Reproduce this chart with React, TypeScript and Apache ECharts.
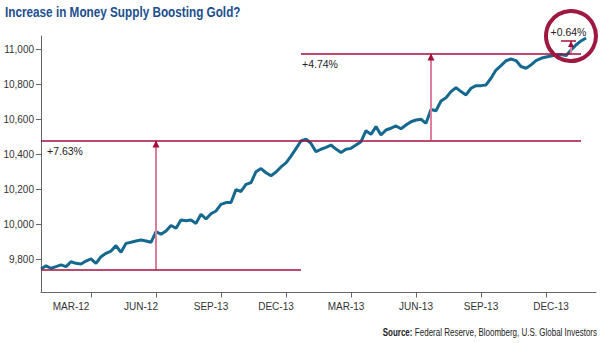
import React, { useEffect, useRef } from "react";
import * as echarts from "echarts";

// Weekly money supply (billions USD)
const moneySupply = [
  9745, 9763, 9749, 9758, 9768, 9758, 9786, 9777, 9773, 9790,
  9802, 9777, 9815, 9834, 9847, 9878, 9840, 9891, 9897, 9904,
  9910, 9904, 9897, 9958, 9943, 9962, 9993, 9977, 10024, 10020,
  10024, 10005, 10057, 10030, 10060, 10076, 10113, 10124, 10124, 10198,
  10187, 10227, 10238, 10300, 10318, 10294, 10277, 10298, 10327, 10350,
  10389, 10432, 10475, 10486, 10461, 10414, 10428, 10439, 10452, 10429,
  10409, 10428, 10433, 10452, 10471, 10534, 10513, 10557, 10509, 10538,
  10548, 10561, 10545, 10566, 10585, 10595, 10599, 10576, 10655, 10648,
  10703, 10722, 10757, 10780, 10757, 10738, 10776, 10791, 10791, 10795,
  10833, 10880, 10905, 10933, 10943, 10934, 10900, 10890, 10909, 10934,
  10947, 10954, 10960, 10967, 10969, 10962, 10994, 11023, 11046, 11063,
];
const weekCount = 112;
const weeks = Array.from({ length: weekCount }, (_, i) => String(i));

const tickWeeks = [10, 23, 36, 49, 62, 75, 88, 101];
const labelWeeks = [6, 20, 34, 47, 61, 75, 88, 102];
const tickLabels = ["MAR-12", "JUN-12", "SEP-13", "DEC-13", "MAR-13", "JUN-13", "SEP-13", "DEC-13"];
const yTicks = [9800, 10000, 10200, 10400, 10600, 10800, 11000];

// Reference levels and the growth annotations
const levelStart = 9740;
const levelYearOne = 10478;
const levelYearTwo = 10975;
const levelLatest = 11046;
const annotations = ["+7.63%", "+4.74%", "+0.64%"];
const arrowWeeks = [23, 78, 106];

const TITLE = "Increase in Money Supply Boosting Gold?";
const SOURCE_BOLD = "Source:";
const SOURCE_REST = " Federal Reserve, Bloomberg, U.S. Global Investors";

const FONT = "'Liberation Sans', Arial, sans-serif";
const RED = "#a30f3d";
const PINK = "#de7e9c";
const BLUE = "#15698f";

export default function App() {
  const ref = useRef<HTMLDivElement>(null);
  useEffect(() => {
    if (!ref.current) return;
    const chart = echarts.init(ref.current, undefined, { renderer: "svg" });
    const lineStyleRed = { color: RED, width: 1.5, type: "solid" as const };
    const shaft = (w: number, lo: number, hi: number) => [
      { coord: [w, lo], lineStyle: { color: PINK, width: 2, type: "solid" } },
      { coord: [w, hi] },
    ];
    const annoLabel = (text: string, position: string, distance: any) => ({
      show: true,
      formatter: text,
      position,
      distance,
      fontFamily: FONT,
      fontSize: 10.5,
      color: "#222",
    });
    chart.setOption({
      animation: false,
      backgroundColor: "#ffffff",
      grid: { left: 41, top: 36, width: 555, height: 256.5, containLabel: false, outerBoundsMode: "none" },
      xAxis: {
        type: "category",
        data: weeks,
        boundaryGap: false,
        axisLine: { lineStyle: { color: "#666", width: 1 } },
        axisTick: {
          interval: (idx: number) => tickWeeks.includes(idx),
          length: 5,
          lineStyle: { color: "#666" },
        },
        axisLabel: {
          interval: (idx: number) => labelWeeks.includes(idx),
          formatter: (_v: string, idx: number) => tickLabels[labelWeeks.indexOf(idx)] ?? "",
          fontFamily: FONT,
          fontSize: 10,
          color: "#333",
          margin: 9,
        },
        splitLine: { show: false },
      },
      yAxis: {
        type: "value",
        min: 9610.6,
        max: 11074.2,
        axisLine: { show: true, lineStyle: { color: "#666", width: 1 } },
        axisTick: { show: true, customValues: yTicks, length: 5, lineStyle: { color: "#666" } },
        axisLabel: {
          customValues: yTicks,
          formatter: (v: number) => v.toLocaleString("en-US"),
          fontFamily: FONT,
          fontSize: 10,
          color: "#333",
          margin: 7,
        },
        splitLine: { show: false },
      },
      series: [
        {
          type: "line",
          data: moneySupply,
          symbol: "none",
          lineStyle: { color: BLUE, width: 3 },
          z: 3,
          markLine: {
            silent: true,
            symbol: ["none", "none"],
            lineStyle: lineStyleRed,
            label: { show: false },
            data: [
              shaft(arrowWeeks[0], levelStart, levelYearOne),
              shaft(arrowWeeks[1], levelYearOne, levelYearTwo),
              shaft(arrowWeeks[2], levelYearTwo, levelLatest),
              [{ coord: [0, levelStart] }, { coord: [52, levelStart] }],
              [
                { coord: [0, levelYearOne], label: annoLabel(annotations[0], "insideStartBottom", [6, 5]) },
                { coord: [108, levelYearOne] },
              ],
              [
                { coord: [52, levelYearTwo], label: annoLabel(annotations[1], "insideStartBottom", [1, 5]) },
                { coord: [108, levelYearTwo] },
              ],
              [
                { coord: [104, levelLatest], label: annoLabel(annotations[2], "insideMiddleTop", 3) },
                { coord: [107, levelLatest] },
              ],
            ],
          },
          markPoint: {
            silent: true,
            symbol: "triangle",
            symbolSize: [7, 7],
            symbolOffset: [0, 3.5],
            itemStyle: { color: RED },
            label: { show: false },
            data: [
              { coord: [arrowWeeks[0], levelYearOne] },
              { coord: [arrowWeeks[1], levelYearTwo] },
              { coord: [arrowWeeks[2], levelLatest], symbolSize: [6, 6], symbolOffset: [0, 3] },
            ],
          },
        },
      ],
      graphic: [
        {
          type: "text",
          x: 5,
          y: 12.5,
          scaleX: 0.84,
          style: {
            text: TITLE,
            fontFamily: FONT,
            fontSize: 14,
            fontWeight: "bold",
            fill: "#1b4f8e",
            textAlign: "left",
            textVerticalAlign: "middle",
          },
        },
        {
          type: "text",
          x: 597,
          y: 333,
          scaleX: 0.8,
          style: {
            text: "{b|" + SOURCE_BOLD + "}{r|" + SOURCE_REST + "}",
            textAlign: "right",
            textVerticalAlign: "middle",
            rich: {
              b: { fontFamily: FONT, fontSize: 10, fontWeight: "bold", fill: "#222" },
              r: { fontFamily: FONT, fontSize: 10, fontWeight: "normal", fill: "#222" },
            },
          },
        },
        {
          type: "circle",
          shape: { cx: 571, cy: 36, r: 25 },
          style: { fill: "none", stroke: "#9e1840", lineWidth: 4 },
          z: 100,
        },
      ],
    });
    return () => chart.dispose();
  }, []);
  return (
    <div
      ref={ref}
      style={{ position: "fixed", left: 0, top: 0, width: 600, height: 343, background: "#fff" }}
    />
  );
}
